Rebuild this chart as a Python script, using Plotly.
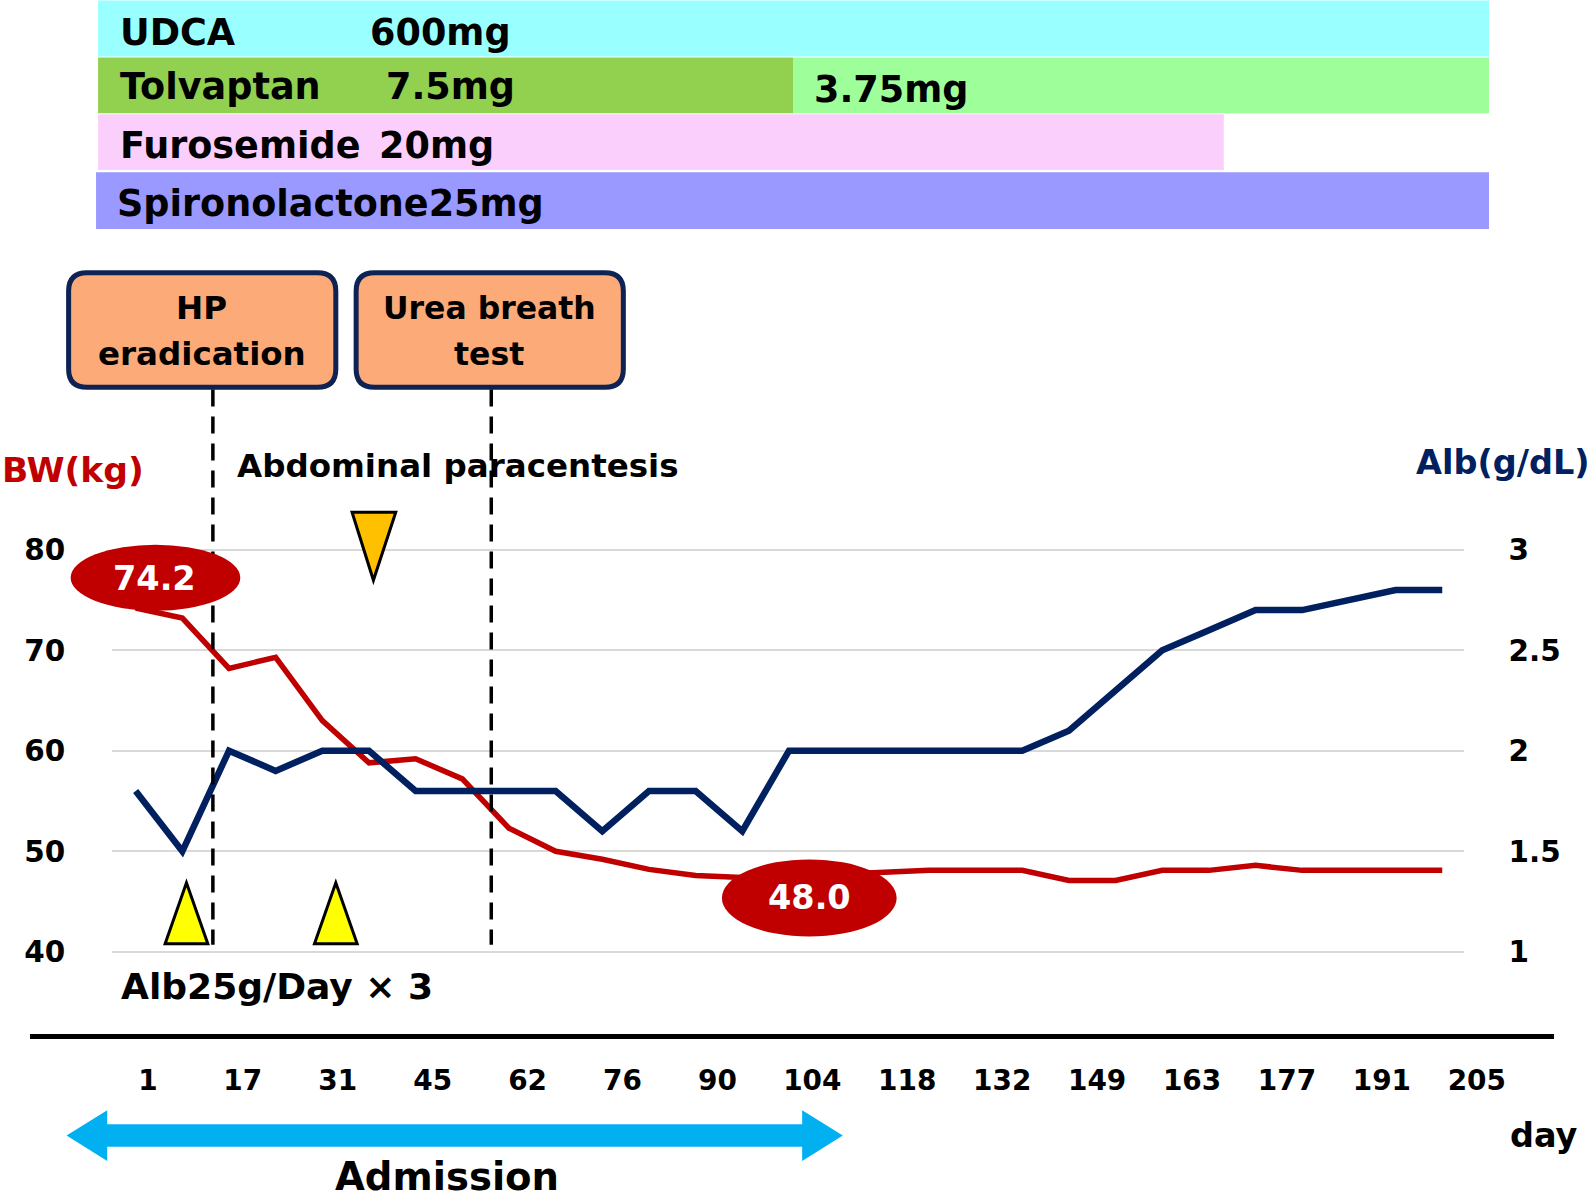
import plotly.graph_objects as go

# ---------------- data ----------------
day_labels = ["1", "17", "31", "45", "62", "76", "90", "104", "118", "132",
              "149", "163", "177", "191", "205"]
bw_kg = [74.2, 73.2, 68.2, 69.3, 63.0, 58.8, 59.2, 57.2, 52.3, 50.0, 49.2, 48.2,
         47.6, 47.4, 47.5, 47.7, 47.9, 48.1, 48.1, 48.1, 47.1, 47.1, 48.1, 48.1,
         48.6, 48.1, 48.1, 48.1, 48.1]
alb_gdl = [1.8, 1.5, 2.0, 1.9, 2.0, 2.0, 1.8, 1.8, 1.8, 1.8, 1.6, 1.8, 1.8, 1.6,
           2.0, 2.0, 2.0, 2.0, 2.0, 2.0, 2.1, 2.3, 2.5, 2.6, 2.7, 2.7, 2.75, 2.8, 2.8]
visit = list(range(len(bw_kg)))
bw_ticks = [40, 50, 60, 70, 80]
alb_ticks = [1, 1.5, 2, 2.5, 3]
alb_ticktext = ["1", "1.5", "2", "2.5", "3"]

# ---------------- geometry helpers (reference pixel frame) ----------------
S = 1593 / 1568
W, H = 1593, 1202
X0, X1 = 30, 1530      # paper extent (x)
Y0, Y1 = 490, 1018     # paper extent (y)
PL, PR = 111, 1441     # plot area x
PT0, PT1 = 134, 1420   # first / last measurement x
STEP = (PT1 - PT0) / (len(bw_kg) - 1)


def px(x):
    return (x - X0) / (X1 - X0)


def py(y):
    return (Y1 - y) / (Y1 - Y0)


def kg_at(y):
    return 80 - (y - 541) / 9.9


def alb_at(y):
    return 3 - (y - 541) / 198


FONT = "DejaVu Sans"


def fnt(size, color="black", bold=False):
    d = dict(family=FONT, size=size * S, color=color)
    if bold:
        d["weight"] = "bold"
    return d


RED = "#C00000"
NAVY = "#002060"

fig = go.Figure()
fig.add_trace(go.Scatter(x=visit, y=bw_kg, mode="lines", name="BW",
                         line=dict(color=RED, width=5.5), showlegend=False))
fig.add_trace(go.Scatter(x=visit, y=alb_gdl, mode="lines", name="Alb", yaxis="y2",
                         line=dict(color=NAVY, width=6.5), showlegend=False))
fig.add_trace(go.Scatter(x=[], y=[], xaxis="x2", yaxis="y3", showlegend=False,
                         hoverinfo="skip"))

shapes = []
# drug bars
bars = [
    (97, 0, 1466, 55, "#99FFFF"),
    (97, 56, 781, 111, "#92D050"),
    (781, 56, 1466, 111, "#9EFF9A"),
    (97, 112, 1205, 167, "#FACFFB"),
    (95, 169, 1466, 225, "#9999FF"),
]
for x0, y0, x1, y1, c in bars:
    shapes.append(dict(type="rect", xref="paper", yref="paper",
                       x0=px(x0), x1=px(x1), y0=py(y1), y1=py(y0),
                       fillcolor=c, line=dict(width=0), layer="above"))


def rounded(x0, y0, x1, y1, r):
    pts = [
        f"M {px(x0 + r)},{py(y0)}",
        f"L {px(x1 - r)},{py(y0)}",
        f"Q {px(x1)},{py(y0)} {px(x1)},{py(y0 + r)}",
        f"L {px(x1)},{py(y1 - r)}",
        f"Q {px(x1)},{py(y1)} {px(x1 - r)},{py(y1)}",
        f"L {px(x0 + r)},{py(y1)}",
        f"Q {px(x0)},{py(y1)} {px(x0)},{py(y1 - r)}",
        f"L {px(x0)},{py(y0 + r)}",
        f"Q {px(x0)},{py(y0)} {px(x0 + r)},{py(y0)}",
        "Z",
    ]
    return " ".join(pts)


for (x0, y0, x1, y1) in [(68, 268, 331, 381), (351, 268, 614, 381)]:
    shapes.append(dict(type="path", xref="paper", yref="paper",
                       path=rounded(x0, y0, x1, y1, 18),
                       fillcolor="#FBAA78", line=dict(color="#0E2254", width=5),
                       layer="above"))

# dashed event lines
for xv in (210, 484):
    shapes.append(dict(type="line", xref="paper", yref="paper",
                       x0=px(xv), x1=px(xv), y0=py(383), y1=py(930),
                       line=dict(color="black", width=3.5, dash="17px,10px"),
                       layer="above"))


def poly(points):
    s = "M " + " L ".join(f"{px(a)},{py(b)}" for a, b in points) + " Z"
    return s


# paracentesis marker
shapes.append(dict(type="path", xref="paper", yref="paper",
                   path=poly([(347, 504), (390, 504), (368, 571)]),
                   fillcolor="#FFC000", line=dict(color="black", width=3),
                   layer="above"))
# albumin infusion markers
for xc in (184, 331):
    shapes.append(dict(type="path", xref="paper", yref="paper",
                       path=poly([(xc - 21, 929), (xc + 21, 929), (xc, 869)]),
                       fillcolor="#FFFF00", line=dict(color="black", width=3),
                       layer="above"))

# value ellipses
for (x0, y0, x1, y1) in [(70, 536, 237, 601), (711, 846, 883, 922)]:
    shapes.append(dict(type="circle", xref="paper", yref="paper",
                       x0=px(x0), x1=px(x1), y0=py(y1), y1=py(y0),
                       fillcolor=RED, line=dict(width=0), layer="above"))

# admission double arrow
shapes.append(dict(type="path", xref="paper", yref="paper",
                   path=poly([(66, 1118), (106, 1093), (106, 1107), (790, 1107),
                              (790, 1093), (830, 1118), (790, 1143), (790, 1129),
                              (106, 1129), (106, 1143)]),
                   fillcolor="#00B0F0", line=dict(width=0), layer="above"))

annotations = []


def txt(text, x, y, size, color="black", anchor="left", bold=True):
    t = f"<b>{text}</b>" if bold else text
    annotations.append(dict(text=t, xref="paper", yref="paper", x=px(x), y=py(y),
                            xanchor=anchor, yanchor="middle", showarrow=False,
                            font=fnt(size, color), align="center"))


txt("UDCA", 117, 31, 36)
txt("600mg", 363, 31, 36)
txt("Tolvaptan", 117, 85, 36)
txt("7.5mg", 378, 85, 36)
txt("3.75mg", 800, 88, 36)
txt("Furosemide", 117, 143, 36)
txt("20mg", 372, 143, 36)
txt("Spironolactone25mg", 114, 200, 36)
txt("HP", 199, 303, 32, anchor="center")
txt("eradication", 199, 348, 32, anchor="center")
txt("Urea breath", 482, 303, 31, anchor="center")
txt("test", 482, 348, 31, anchor="center")
txt("BW(kg)", 0, 462, 34, color=RED)
txt("Abdominal paracentesis", 232, 458, 32)
txt("Alb(g/dL)", 1392, 455, 33, color=NAVY)
txt("74.2", 153, 569, 33, color="white", anchor="center")
txt("48.0", 797, 884, 33, color="white", anchor="center")
txt("Alb25g/Day × 3", 118, 972, 35.5)
txt("Admission", 440, 1158, 38, anchor="center")
txt("day", 1485, 1118, 33)

tick_step = 93.43
tick_first = 146

fig.update_layout(
    width=W, height=H,
    margin=dict(l=X0 * S, r=W - X1 * S, t=Y0 * S, b=H - Y1 * S, autoexpand=False),
    paper_bgcolor="white", plot_bgcolor="rgba(0,0,0,0)",
    showlegend=False,
    xaxis=dict(domain=[px(PL), px(PR)], range=[(PL - PT0) / STEP, (PR - PT0) / STEP],
               visible=False, fixedrange=True),
    yaxis=dict(domain=[0, 1], anchor="x", range=[kg_at(Y1), kg_at(Y0)],
               tickmode="array", tickvals=bw_ticks, showgrid=True,
               gridcolor="#D9D9D9", gridwidth=2, zeroline=False, showline=False,
               tickfont=fnt(29, bold=True), ticklabelstandoff=int(46 * S), ticks=""),
    yaxis2=dict(overlaying="y", side="right", anchor="x",
                range=[alb_at(Y1), alb_at(Y0)], tickmode="array",
                tickvals=alb_ticks, ticktext=alb_ticktext, showgrid=False,
                zeroline=False, showline=False, tickfont=fnt(29, bold=True),
                ticklabelstandoff=int(44 * S), ticks=""),
    xaxis2=dict(domain=[0, 1], anchor="y3",
                range=[(X0 - tick_first) / tick_step, (X1 - tick_first) / tick_step],
                tickmode="array", tickvals=list(range(len(day_labels))),
                ticktext=day_labels, showline=True, linecolor="black",
                linewidth=5, showgrid=False, zeroline=False, ticks="",
                tickfont=fnt(27.5, bold=True), ticklabelstandoff=int(17 * S)),
    yaxis3=dict(domain=[0, 1], anchor="x2", range=[0, 1], visible=False),
    shapes=shapes,
    annotations=annotations,
)

fig.write_html("out.html", config={"displayModeBar": False},
               post_script="document.body.style.margin='0';document.body.style.overflow='hidden';")
